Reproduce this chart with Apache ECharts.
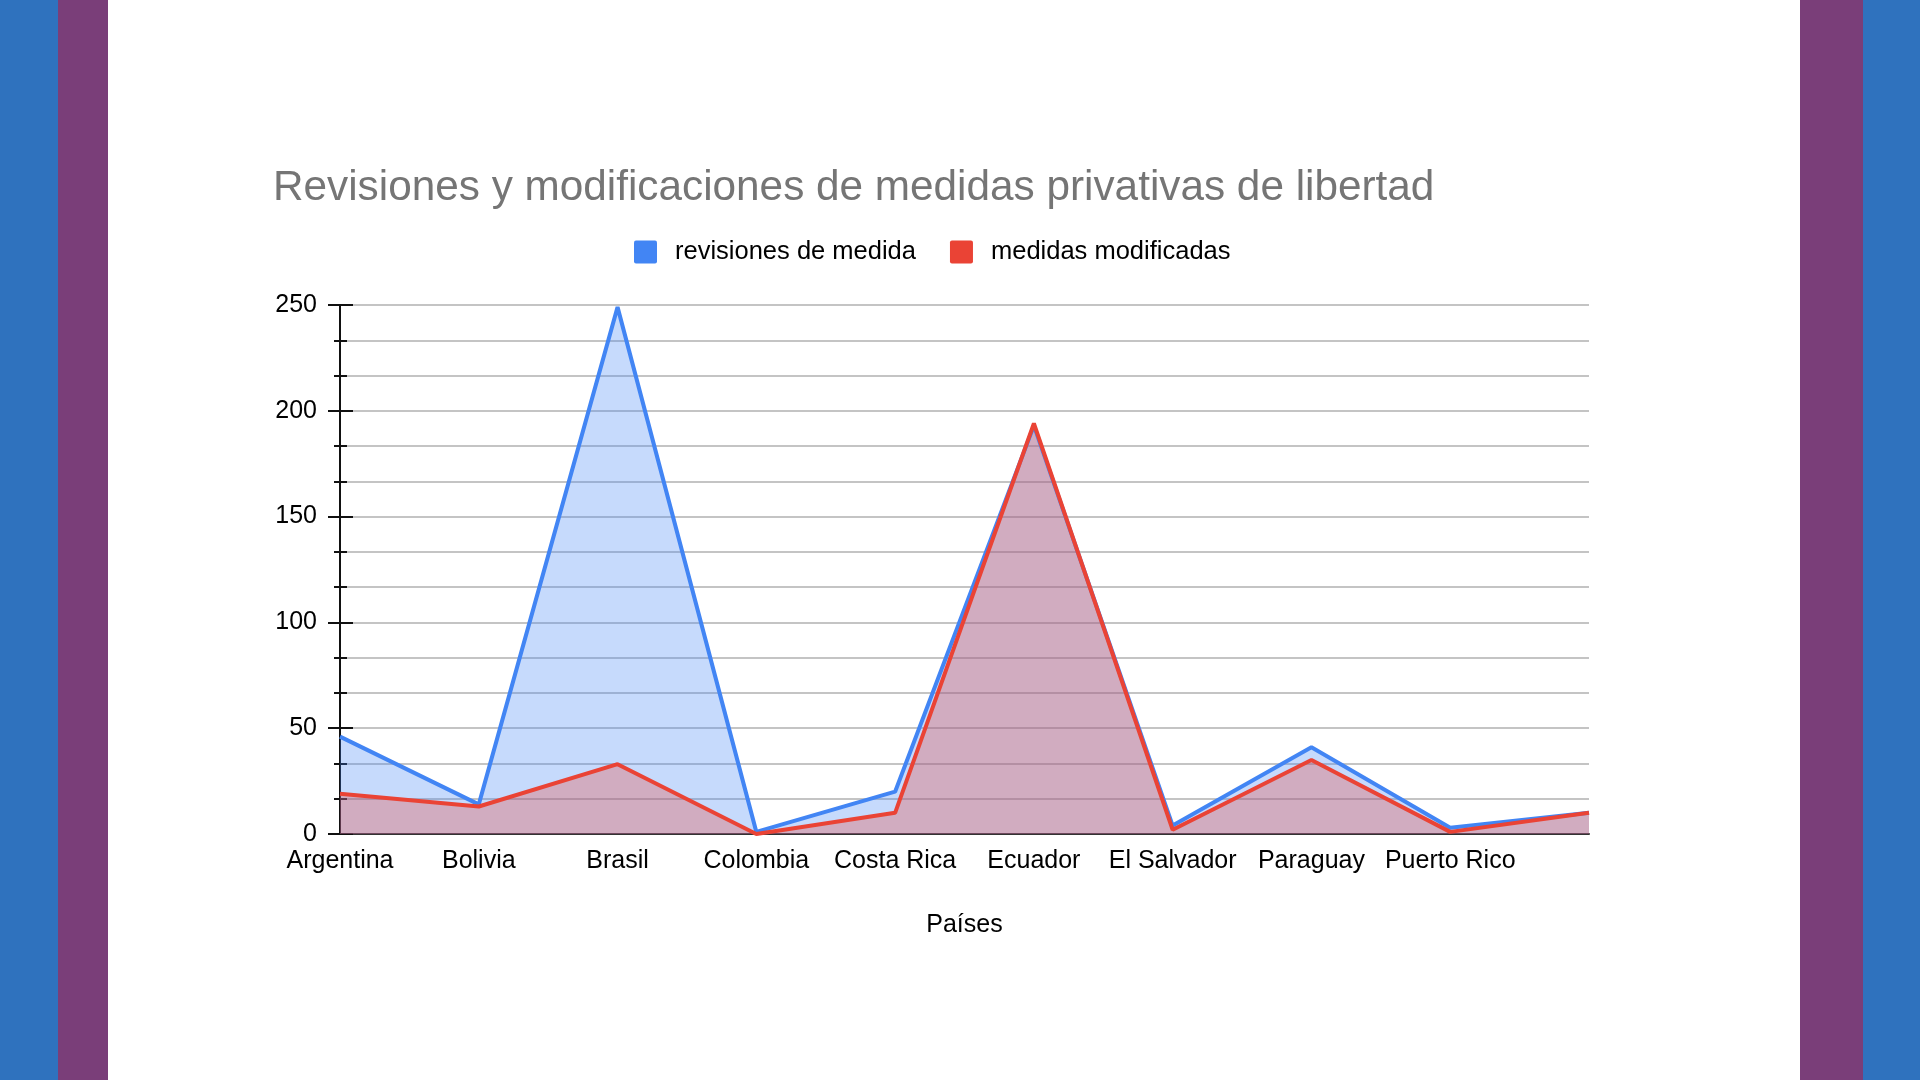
<!DOCTYPE html>
<html>
<head>
<meta charset="utf-8">
<script src="https://cdn.jsdelivr.net/npm/echarts@6/dist/echarts.min.js"></script>
<style>
html,body{margin:0;padding:0;background:#fff;}
#chart{width:1920px;height:1080px;}
</style>
</head>
<body>
<div id="chart"></div>
<script>
const categories = ['Argentina','Bolivia','Brasil','Colombia','Costa Rica','Ecuador','El Salvador','Paraguay','Puerto Rico',''];
const revisiones = [46, 14, 249, 1, 20, 193, 4, 41, 3, 10];
const modificadas = [19, 13, 33, 0, 10, 194, 2, 35, 1, 10];
const yTicks = {min: 0, max: 250, interval: 50};

const FONT = '"Liberation Sans", Arial, sans-serif';
const chart = echarts.init(document.getElementById('chart'));
chart.setOption({
  backgroundColor: '#ffffff',
  animation: false,
  graphic: [
    {type:'rect', shape:{x:0,y:0,width:58,height:1080}, style:{fill:'#2F72BE'}},
    {type:'rect', shape:{x:58,y:0,width:50,height:1080}, style:{fill:'#7A3E79'}},
    {type:'rect', shape:{x:1800,y:0,width:63,height:1080}, style:{fill:'#7A3E79'}},
    {type:'rect', shape:{x:1863,y:0,width:57,height:1080}, style:{fill:'#2F72BE'}}
  ],
  title: {
    text: 'Revisiones y modificaciones de medidas privativas de libertad',
    left: 273, top: 167, padding: 0,
    textStyle: {fontFamily: FONT, fontSize: 42.3, fontWeight: 'normal', color: '#757575'}
  },
  legend: {
    left: 634, top: 239, padding: 0,
    itemWidth: 23, itemHeight: 23, itemGap: 34,
    icon: 'path://M2,0 L21,0 Q23,0 23,2 L23,21 Q23,23 21,23 L2,23 Q0,23 0,21 L0,2 Q0,0 2,0 Z',
    textStyle: {fontFamily: FONT, fontSize: 25.5, color: '#000', padding: [0,0,0,13]},
    data: ['revisiones de medida', 'medidas modificadas']
  },
  grid: {left: 340, right: 331, top: 305, bottom: 246, containLabel: false},
  xAxis: {
    type: 'category', data: categories, boundaryGap: false,
    axisLine: {show: true, lineStyle: {color: '#333', width: 2}},
    axisTick: {show: false},
    axisLabel: {interval: 0, margin: 15, fontFamily: FONT, fontSize: 25, color: '#000'},
    splitLine: {show: false},
    name: 'Países', nameLocation: 'middle', nameGap: 79,
    nameTextStyle: {fontFamily: FONT, fontSize: 25, color: '#000'}
  },
  yAxis: [
    {
      type: 'value', min: yTicks.min, max: yTicks.max, interval: yTicks.interval,
      axisLine: {show: true, lineStyle: {color: '#111', width: 2}},
      axisTick: {show: true, length: 12, lineStyle: {color: '#111', width: 2}},
      minorTick: {show: true, splitNumber: 3, length: 6, lineStyle: {color: '#111', width: 2}},
      axisLabel: {margin: 23, fontFamily: FONT, fontSize: 25, color: '#000'},
      splitLine: {show: true, lineStyle: {color: '#c4c4c4', width: 2}},
      minorSplitLine: {show: true, lineStyle: {color: '#c4c4c4', width: 2}}
    },
    {
      type: 'value', position: 'left', min: yTicks.min, max: yTicks.max, interval: yTicks.interval,
      axisLine: {show: false},
      axisTick: {show: true, inside: true, length: 13, lineStyle: {color: '#111', width: 2}},
      minorTick: {show: true, splitNumber: 3, length: 7, lineStyle: {color: '#111', width: 2}},
      axisLabel: {show: false},
      splitLine: {show: false}
    }
  ],
  series: [
    {
      name: 'revisiones de medida', type: 'line', data: revisiones, yAxisIndex: 0,
      showSymbol: false, symbol: 'none',
      itemStyle: {color: '#4285F4'},
      lineStyle: {color: '#4285F4', width: 4},
      areaStyle: {color: '#4285F4', opacity: 0.3}
    },
    {
      name: 'medidas modificadas', type: 'line', data: modificadas, yAxisIndex: 0,
      showSymbol: false, symbol: 'none',
      itemStyle: {color: '#EA4335'},
      lineStyle: {color: '#EA4335', width: 4},
      areaStyle: {color: '#EA4335', opacity: 0.3}
    }
  ]
});
</script>
</body>
</html>
